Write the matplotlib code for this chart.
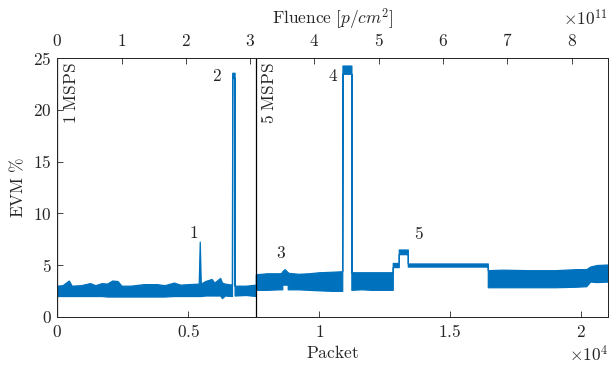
import numpy as np
import matplotlib.pyplot as plt

plt.rcParams['mathtext.fontset'] = 'cm'
plt.rcParams['font.family'] = 'serif'
plt.rcParams['font.serif'] = ['DejaVu Serif']

# --- data (envelope of the noisy EVM trace) ---
packet = [0, 200, 440, 550, 900, 1250, 1450, 1700, 1900, 2100, 2300, 2450, 2800,
          3300, 3800, 4100, 4450, 4700, 5000, 5400, 5440, 5480, 5650, 5890, 6000,
          6220, 6290, 6400, 6670,
          6680, 6770, 6770, 7200, 7580,
          7580, 8000, 8500, 8590, 8590, 8680, 8800, 8800, 9200, 9600, 10000, 10500, 10880,
          10890, 11230,
          11230, 11600, 12000, 12400, 12810,
          12810, 13040,
          13040, 13385,
          13385, 16440,
          16440, 17000, 18000, 19000, 19800, 20200,
          20350, 20600, 21030]
evm_lo = [2.0, 2.0, 2.0, 2.0, 2.0, 2.0, 2.0, 2.0, 1.95, 1.95, 1.95, 1.95, 1.95,
          1.95, 1.95, 1.95, 2.0, 2.0, 2.0, 2.0, 2.0, 2.0, 2.05, 2.05, 2.05,
          2.05, 1.8, 2.05, 2.0,
          23.1, 23.1, 2.05, 2.1, 2.0,
          2.6, 2.6, 2.65, 2.65, 3.1, 3.1, 3.1, 2.65, 2.65, 2.6, 2.55, 2.5, 2.5,
          23.5, 23.5,
          2.6, 2.65, 2.6, 2.6, 2.6,
          4.8, 4.8,
          6.05, 6.05,
          4.85, 4.85,
          2.85, 2.85, 2.85, 2.85, 2.9, 2.95,
          3.4, 3.35, 3.4]
evm_hi = [3.0, 3.05, 3.5, 3.0, 3.05, 3.25, 3.05, 3.25, 3.2, 3.5, 3.45, 3.0, 3.0,
          3.15, 3.15, 3.05, 3.3, 3.1, 3.15, 3.2, 7.26, 3.2, 3.45, 3.65, 3.3,
          3.75, 3.3, 3.2, 3.1,
          23.6, 23.6, 3.0, 3.0, 3.1,
          4.1, 4.2, 4.2, 4.3, 4.4, 4.6, 4.3, 4.25, 4.15, 4.2, 4.3, 4.35, 4.4,
          24.3, 24.3,
          4.3, 4.3, 4.3, 4.3, 4.3,
          5.2, 5.2,
          6.5, 6.5,
          5.15, 5.15,
          4.5, 4.55, 4.5, 4.5, 4.6, 4.6,
          4.85, 5.0, 5.05]

rate_change_packet = [0, 7580]
rate_labels = ['1\\ MSPS', '5\\ MSPS']

event_labels = ['1', '2', '3', '4', '5']
event_packet = [5193, 6109, 8530, 10515, 13822]
event_evm = [8.07, 23.23, 6.07, 23.2, 8.0]

PACKET_MAX = 21030
FLUENCE_MAX = 8.565e11

packet_ticks = [0, 5000, 10000, 15000, 20000]
packet_ticklabels = ['0', '0.5', '1', '1.5', '2']
fluence_ticks = [0, 1e11, 2e11, 3e11, 4e11, 5e11, 6e11, 7e11, 8e11]
fluence_ticklabels = ['0', '1', '2', '3', '4', '5', '6', '7', '8']
evm_ticks = [0, 5, 10, 15, 20, 25]

FS = 12.5
AXC = '#262626'
LINE_C = '#0072BD'

fig = plt.figure(figsize=(6.09, 3.66), dpi=100)
ax = fig.add_axes([57.3 / 609, (366 - 316.7) / 366, (608 - 57.3) / 609, (316.7 - 58.3) / 366])

ax.fill_between(packet, evm_lo, evm_hi, facecolor=LINE_C, edgecolor=LINE_C, linewidth=0.9)

for xp, lab in zip(rate_change_packet, rate_labels):
    ax.axvline(xp, color='black', linewidth=0.9)
    ax.annotate(r'$\mathrm{' + lab + '}$', xy=(xp, 25), xytext=(4, -3),
                textcoords='offset points', rotation=90, ha='left', va='top',
                fontsize=FS, color=AXC)

for lab, xp, yp in zip(event_labels, event_packet, event_evm):
    ax.text(xp, yp, r'$' + lab + '$', ha='center', va='center', fontsize=FS, color=AXC)

ax.set_xlim(0, PACKET_MAX)
ax.set_ylim(0, 25)
ax.set_xticks(packet_ticks)
ax.set_xticklabels(['$' + t + '$' for t in packet_ticklabels])
ax.set_yticks(evm_ticks)
ax.set_yticklabels(['$%d$' % v for v in evm_ticks])
ax.tick_params(direction='in', length=4, width=0.6, colors=AXC, labelsize=FS,
               top=False, right=False)
ax.tick_params(axis='x', pad=5)
ax.tick_params(axis='y', pad=4)
ax.set_xlabel(r'$\mathrm{Packet}$', fontsize=FS, color=AXC, labelpad=3)
ax.set_ylabel(r'$\mathrm{EVM\ \%}$', fontsize=FS, color=AXC, labelpad=4)
for s in ax.spines.values():
    s.set_color(AXC)
    s.set_linewidth(0.7)

ax2 = ax.twiny()
ax2.set_xlim(0, FLUENCE_MAX)
ax2.set_xticks(fluence_ticks)
ax2.set_xticklabels(['$' + t + '$' for t in fluence_ticklabels])
ax2.tick_params(direction='in', length=4, width=0.6, colors=AXC, labelsize=FS, pad=6)
ax2.set_xlabel(r'$\mathrm{Fluence}\ [p/cm^2]$', fontsize=FS, color=AXC, labelpad=6)
for s in ax2.spines.values():
    s.set_color(AXC)
    s.set_linewidth(0.7)

fig.text(608 / 609, 1 - 19 / 366, r'$\times 10^{11}$', ha='right', va='center', fontsize=FS, color=AXC)
fig.text(608 / 609, 1 - 355 / 366, r'$\times 10^{4}$', ha='right', va='center', fontsize=FS, color=AXC)

fig.savefig('out.png', dpi=100)
